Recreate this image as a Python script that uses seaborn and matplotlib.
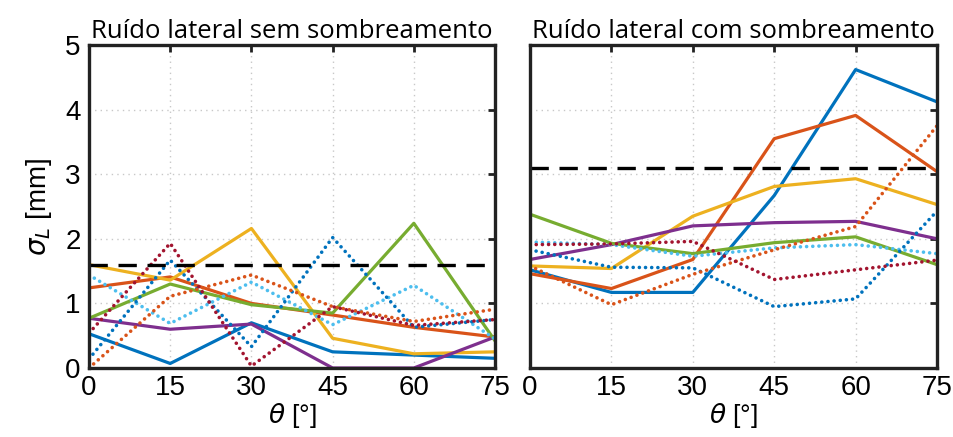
import numpy as np
import pandas as pd
import matplotlib
matplotlib.use("Agg")
import matplotlib.pyplot as plt
import seaborn as sns

# Incidence angles
theta = [0, 15, 30, 45, 60, 75]

# Lateral noise, no shading [mm]
sem_azul = [0.53, 0.07, 0.70, 0.25, 0.20, 0.15]
sem_laranja = [1.24, 1.41, 1.00, 0.82, 0.63, 0.48]
sem_amarelo = [1.60, 1.36, 2.16, 0.46, 0.22, 0.25]
sem_roxo = [0.77, 0.60, 0.68, 0.00, 0.00, 0.48]
sem_verde = [0.77, 1.30, 0.98, 0.85, 2.24, 0.42]
sem_ciano_pt = [1.44, 0.69, 1.33, 0.67, 1.28, 0.45]
sem_azul_pt = [0.14, 1.67, 0.33, 2.02, 0.63, 0.75]
sem_laranja_pt = [0.00, 1.11, 1.44, 0.95, 0.72, 0.91]
sem_vinho_pt = [0.54, 1.93, 0.03, 0.95, 0.66, 0.75]
sem_limite = 1.60

# Lateral noise, with shading [mm]
com_azul = [1.52, 1.17, 1.17, 2.67, 4.62, 4.12]
com_laranja = [1.46, 1.23, 1.68, 3.55, 3.91, 3.04]
com_amarelo = [1.58, 1.54, 2.35, 2.81, 2.93, 2.53]
com_roxo = [1.68, 1.91, 2.20, 2.25, 2.27, 2.00]
com_verde = [2.38, 1.93, 1.77, 1.94, 2.03, 1.60]
com_ciano_pt = [1.95, 1.91, 1.73, 1.86, 1.91, 1.77]
com_azul_pt = [1.83, 1.56, 1.55, 0.95, 1.07, 2.43]
com_laranja_pt = [1.58, 0.98, 1.45, 1.83, 2.19, 3.75]
com_vinho_pt = [1.91, 1.92, 1.96, 1.37, 1.52, 1.67]
com_limite = 3.09

titulos = ["Ruído lateral sem sombreamento", "Ruído lateral com sombreamento"]
y_ticks = [0, 1, 2, 3, 4, 5]

AZUL, LARANJA, AMARELO = "#0072BD", "#D95319", "#EDB120"
ROXO, VERDE, CIANO, VINHO = "#7E2F8E", "#77AC30", "#4DBEEE", "#A2142F"

CHEIA = "-"
PONTOS = (0, (0.01, 1.7))

paineis = [
    dict(series=[(sem_azul, AZUL, CHEIA), (sem_laranja, LARANJA, CHEIA),
                 (sem_amarelo, AMARELO, CHEIA), (sem_roxo, ROXO, CHEIA),
                 (sem_verde, VERDE, CHEIA), (sem_ciano_pt, CIANO, PONTOS),
                 (sem_azul_pt, AZUL, PONTOS), (sem_laranja_pt, LARANJA, PONTOS),
                 (sem_vinho_pt, VINHO, PONTOS)],
         limite=sem_limite),
    dict(series=[(com_azul, AZUL, CHEIA), (com_laranja, LARANJA, CHEIA),
                 (com_amarelo, AMARELO, CHEIA), (com_roxo, ROXO, CHEIA),
                 (com_verde, VERDE, CHEIA), (com_ciano_pt, CIANO, PONTOS),
                 (com_azul_pt, AZUL, PONTOS), (com_laranja_pt, LARANJA, PONTOS),
                 (com_vinho_pt, VINHO, PONTOS)],
         limite=com_limite),
]

sns.set_theme(style="white")
plt.rcParams["font.family"] = ["Liberation Sans", "DejaVu Sans"]
plt.rcParams["mathtext.fontset"] = "dejavusans"
plt.rcParams["text.color"] = "black"
plt.rcParams["axes.labelcolor"] = "black"

fig = plt.figure(figsize=(9.54, 4.37), dpi=100)
posicoes = [[0.0933, 0.1579, 0.4256, 0.7391], [0.5556, 0.1579, 0.4266, 0.7391]]

for i, (painel, pos) in enumerate(zip(paineis, posicoes)):
    ax = fig.add_axes(pos)
    for valores, cor, estilo in painel["series"]:
        df = pd.DataFrame({"theta": theta, "sigma": valores})
        largura = 2.3 if estilo == CHEIA else 2.6
        sns.lineplot(data=df, x="theta", y="sigma", ax=ax, color=cor,
                     linewidth=largura, linestyle=estilo, legend=False,
                     dash_capstyle="round")
    ax.axhline(painel["limite"], color="black", linewidth=2.4,
               linestyle=(0, (5.5, 3.2)))
    ax.set_xlim(0, 75)
    ax.set_ylim(0, 5)
    ax.set_xticks(theta)
    ax.set_yticks(y_ticks)
    ax.grid(True, color="#c8c8c8", linestyle=(0, (1, 3)), linewidth=1.0)
    ax.tick_params(direction="in", length=5, width=2, top=True, right=True,
                   labelsize=20, pad=6, color="#222222", labelcolor="black")
    ax.tick_params(axis="x", pad=5)
    for sp in ax.spines.values():
        sp.set_linewidth(2.4)
        sp.set_color("#222222")
        sp.set_visible(True)
        sp.set_zorder(5)
    ax.set_xlabel(r"$\theta$ [°]", fontsize=19, labelpad=0)
    ax.set_title(titulos[i], fontsize=18.5, family=["Open Sans", "DejaVu Sans"],
                 color="black", pad=5)
    if i == 0:
        ax.set_ylabel(r"$\sigma_L$ [mm]", fontsize=20, labelpad=8)
    else:
        ax.set_ylabel("")
        ax.set_yticklabels([])

fig.savefig("out.png", dpi=100)
